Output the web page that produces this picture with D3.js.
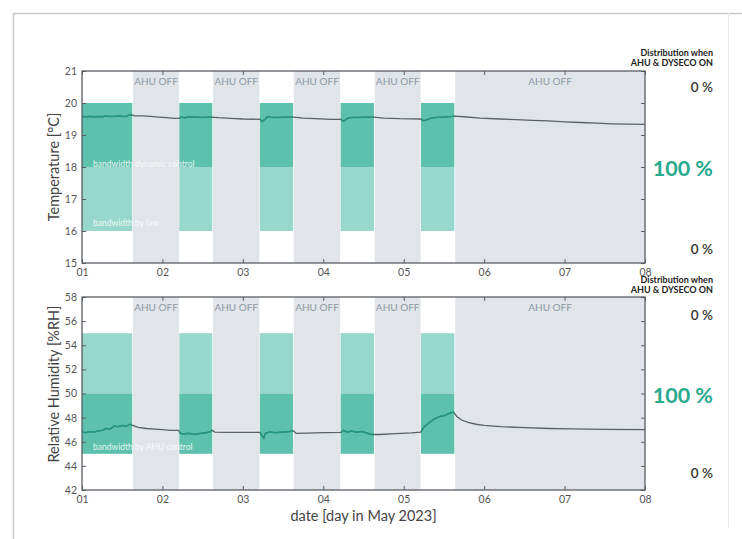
<!DOCTYPE html>
<html><head><meta charset="utf-8">
<script src="https://cdn.jsdelivr.net/npm/d3@7"></script>
<style>
html,body{margin:0;padding:0;background:#fff;}
svg{display:block;font-family:Lato,"Open Sans",sans-serif;}
</style></head><body>
<svg id="c" width="742" height="539"></svg>
<script>
// ---- data (x in days since 1 May 2023 00:00) ----
const dayTicks = [0,1,2,3,4,5,6,7];
const dayLabels = ["01","02","03","04","05","06","07","08"];
const ahuOffStart = [0.635, 1.63, 2.635, 3.64, 4.64];
const ahuOffEnd   = [1.205, 2.205, 3.21, 4.21, 7.0];
const ahuOnStart  = [0.0, 1.21, 2.21, 3.215, 4.215];
const ahuOnEnd    = [0.625, 1.62, 2.625, 3.63, 4.63];

const tempTicks = [15,16,17,18,19,20,21];
const tempBandLaw = [16,18];
const tempBandDyn = [18,20];
const tempT = [0.00,0.05,0.10,0.15,0.20,0.25,0.30,0.33,0.40,0.45,0.50,0.55,0.58,0.62,0.65,0.75,0.85,0.95,1.05,1.15,1.21,1.23,1.28,1.33,1.40,1.50,1.60,1.70,1.85,2.00,2.21,2.24,2.28,2.31,2.35,2.45,2.55,2.63,2.75,2.90,3.10,3.22,3.25,3.30,3.35,3.45,3.55,3.63,3.75,3.95,4.21,4.24,4.28,4.33,4.40,4.50,4.60,4.63,4.75,4.95,5.20,5.40,5.60,5.80,6.00,6.20,6.40,6.60,6.80,7.00];
const tempV = [19.58,19.57,19.58,19.57,19.58,19.57,19.60,19.58,19.58,19.60,19.58,19.58,19.62,19.63,19.60,19.60,19.58,19.56,19.54,19.52,19.52,19.56,19.54,19.57,19.56,19.55,19.56,19.54,19.52,19.50,19.49,19.42,19.50,19.58,19.55,19.55,19.56,19.56,19.53,19.51,19.49,19.49,19.43,19.52,19.55,19.55,19.56,19.56,19.53,19.51,19.50,19.45,19.47,19.52,19.55,19.56,19.58,19.59,19.57,19.53,19.50,19.48,19.46,19.44,19.41,19.39,19.37,19.35,19.34,19.33];

const rhTicks = [42,44,46,48,50,52,54,56,58];
const rhBandLaw = [50,55];
const rhBandAhu = [45,50];
const rhT = [0.00,0.05,0.10,0.15,0.20,0.25,0.30,0.35,0.40,0.45,0.50,0.55,0.60,0.63,0.70,0.80,0.90,1.00,1.10,1.20,1.22,1.27,1.33,1.40,1.48,1.55,1.60,1.62,1.65,1.80,2.00,2.21,2.24,2.26,2.28,2.33,2.40,2.50,2.58,2.63,2.66,2.80,3.00,3.22,3.25,3.30,3.35,3.40,3.48,3.55,3.60,3.63,3.70,3.90,4.10,4.21,4.25,4.30,4.38,4.45,4.52,4.58,4.62,4.66,4.72,4.80,4.90,5.00,5.20,5.50,5.80,6.10,6.50,7.00];
const rhV = [46.8,46.75,46.85,46.8,46.9,46.95,47.1,47.05,47.3,47.25,47.35,47.3,47.45,47.35,47.2,47.1,47.05,47.0,46.95,46.95,46.7,46.65,46.7,46.6,46.7,46.75,46.85,46.95,46.8,46.78,46.78,46.78,46.5,46.3,46.7,46.8,46.75,46.8,46.85,46.9,46.7,46.72,46.76,46.78,46.95,46.8,46.9,46.8,46.85,46.7,46.6,46.6,46.6,46.67,46.73,46.8,47.2,47.5,47.9,48.1,48.2,48.4,48.45,48.1,47.8,47.6,47.45,47.35,47.25,47.17,47.1,47.06,47.03,47.0];

const distTitle = ["Distribution when","AHU & DYSECO ON"];
const distLabels = ["0 %","100 %","0 %"];

// ---- styles ----
const C = {
  off:"#e1e5ea", dyn:"#5ec1ae", law:"#98d7cb", lineOn:"#1f9a80", lineOff:"#5a6168",
  axis:"#5a5f64", tick:"#555", offText:"#8d99a4", green:"#27a98c"
};

const svg = d3.select("#c");
// page frame
svg.append("line").attr("x1",13).attr("x2",742).attr("y1",13.5).attr("y2",13.5).attr("stroke","#c9c9c9").attr("stroke-width",1.5);
svg.append("line").attr("x1",13.5).attr("x2",13.5).attr("y1",13).attr("y2",539).attr("stroke","#c9c9c9").attr("stroke-width",1.5);
svg.append("line").attr("x1",728.5).attr("x2",728.5).attr("y1",13).attr("y2",528).attr("stroke","#ececec").attr("stroke-width",1);

const left = 82, right = 645;
const x = d3.scaleLinear().domain([0,7]).range([left,right]);

function panel(cfg){
  const y = d3.scaleLinear().domain(cfg.domain).range([cfg.bottom,cfg.top]);
  const g = svg.append("g");
  const clipId = "clip"+cfg.id;
  const cp = svg.append("defs").append("clipPath").attr("id",clipId);
  ahuOnStart.forEach((s,i)=>{
    cp.append("rect").attr("x",x(s)).attr("y",cfg.top).attr("width",x(ahuOnEnd[i])-x(s)).attr("height",cfg.bottom-cfg.top);
  });
  // bands
  ahuOnStart.forEach((s,i)=>{
    g.append("rect").attr("x",x(s)).attr("width",x(ahuOnEnd[i])-x(s))
      .attr("y",y(cfg.bandLight[1])).attr("height",y(cfg.bandLight[0])-y(cfg.bandLight[1])).attr("fill",C.law);
    g.append("rect").attr("x",x(s)).attr("width",x(ahuOnEnd[i])-x(s))
      .attr("y",y(cfg.bandDark[1])).attr("height",y(cfg.bandDark[0])-y(cfg.bandDark[1])).attr("fill",C.dyn);
  });
  // AHU off
  ahuOffStart.forEach((s,i)=>{
    g.append("rect").attr("x",x(s)).attr("width",x(ahuOffEnd[i])-x(s))
      .attr("y",cfg.top).attr("height",cfg.bottom-cfg.top).attr("fill",C.off);
    g.append("text").attr("x",(x(s)+x(ahuOffEnd[i]))/2).attr("y",cfg.top+14)
      .attr("text-anchor","middle").attr("font-size",10).attr("fill",C.offText).text("AHU OFF");
  });
  // band labels
  cfg.bandText.forEach(t=>{
    g.append("text").attr("x",x(0)+11).attr("y",y(t.v)).attr("dy","0.35em")
      .attr("font-size",8.5).attr("fill","#ffffff").attr("fill-opacity",0.85).text(t.s);
  });
  // line
  const pts = cfg.t.map((t,i)=>[t,cfg.v[i]]);
  const line = d3.line().x(d=>x(d[0])).y(d=>y(d[1]));
  g.append("path").datum(pts).attr("d",line).attr("fill","none").attr("stroke",C.lineOff).attr("stroke-width",1.3);
  g.append("path").datum(pts).attr("d",line).attr("fill","none").attr("stroke",C.lineOn).attr("stroke-width",1.5).attr("clip-path",`url(#${clipId})`);
  // axes
  const tl = 4;
  const bottomAx = d3.axisBottom(x).tickValues(dayTicks).tickFormat((d,i)=>dayLabels[i]).tickSizeInner(-tl).tickSizeOuter(0).tickPadding(6);
  const topAx = d3.axisTop(x).tickValues(dayTicks).tickFormat("").tickSizeInner(-tl).tickSizeOuter(0);
  const leftAx = d3.axisLeft(y).tickValues(cfg.ticks).tickFormat(d3.format("d")).tickSizeInner(-tl).tickSizeOuter(0).tickPadding(5);
  const rightAx = d3.axisRight(y).tickValues(cfg.ticks).tickFormat("").tickSizeInner(-tl).tickSizeOuter(0);
  [[bottomAx,`translate(0,${cfg.bottom})`],[topAx,`translate(0,${cfg.top})`],[leftAx,`translate(${left},0)`],[rightAx,`translate(${right},0)`]].forEach(([a,tr])=>{
    const s = g.append("g").attr("transform",tr).call(a);
    s.select(".domain").remove();
    s.selectAll("line").attr("stroke",C.axis).attr("stroke-width",1);
    s.selectAll("text").attr("fill","#555").attr("font-size",10.5).attr("font-family","Lato,sans-serif");
  });
  g.append("rect").attr("x",left).attr("y",cfg.top).attr("width",right-left).attr("height",cfg.bottom-cfg.top)
    .attr("fill","none").attr("stroke",C.axis).attr("stroke-width",1.3);
  // y label
  g.append("text").attr("transform",`translate(${cfg.labelX},${cfg.labelY}) rotate(-90)`).attr("text-anchor","middle")
    .attr("font-size",14.5).attr("fill","#444").text(cfg.label);
  // distribution
  distTitle.forEach((s,i)=>{
    g.append("text").attr("x",713).attr("y",cfg.distY+i*9.5).attr("text-anchor","end").attr("font-size",9)
      .attr("font-weight",700).attr("fill","#222").text(s);
  });
  distLabels.forEach((s,i)=>{
    const big = i===1;
    g.append("text").attr("x",713).attr("y",cfg.dist[i]).attr("dy","0.35em").attr("text-anchor","end")
      .attr("font-size",big?21.5:13.5).attr("font-weight",big?700:600).attr("fill",big?C.green:"#333").text(s);
  });
}

panel({id:"t",domain:[15,21],top:71,bottom:263,ticks:tempTicks,bandLight:tempBandLaw,bandDark:tempBandDyn,
  bandText:[{v:18.1,s:"bandwidth dynamic control"},{v:16.25,s:"bandwidth by law"}],
  t:tempT,v:tempV,label:"Temperature [°C]",labelX:59,labelY:167,distY:56,dist:[87,168,249]});
panel({id:"h",domain:[42,58],top:297,bottom:490,ticks:rhTicks,bandLight:rhBandLaw,bandDark:rhBandAhu,
  bandText:[{v:45.6,s:"bandwidth by AHU control"}],
  t:rhT,v:rhV,label:"Relative Humidity [%RH]",labelX:59,labelY:384,distY:283,dist:[315,395,473]});

svg.append("text").attr("x",(left+right)/2).attr("y",521).attr("text-anchor","middle").attr("font-size",14.5)
  .attr("fill","#444").text("date [day in May 2023]");
</script></body></html>
